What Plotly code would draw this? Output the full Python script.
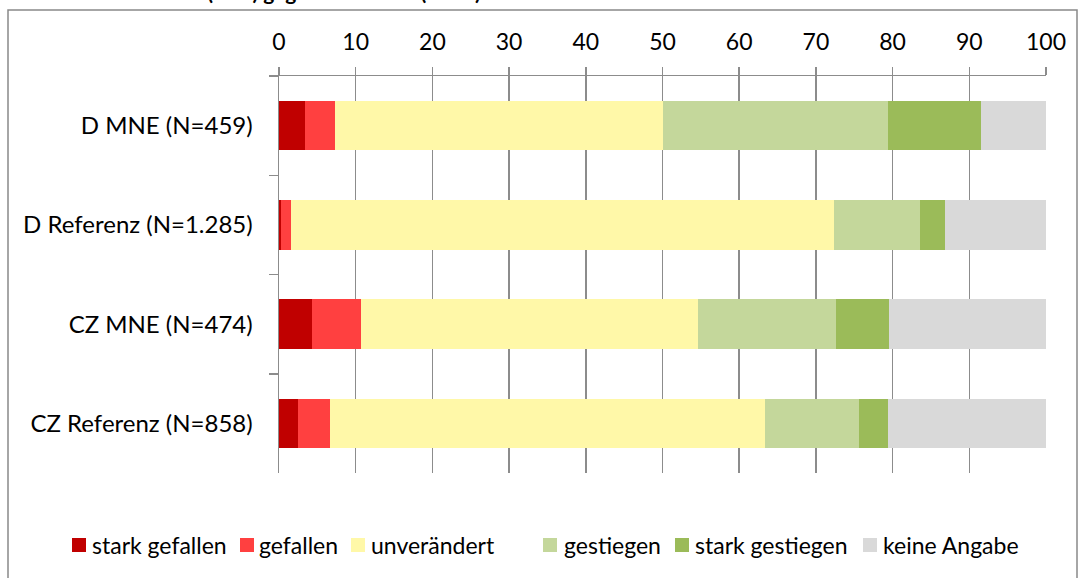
import plotly.graph_objects as go

categories = ["D MNE (N=459)", "D Referenz (N=1.285)", "CZ MNE (N=474)", "CZ Referenz (N=858)"]
series_names = ["stark gefallen", "gefallen", "unverändert", "gestiegen", "stark gestiegen", "keine Angabe"]
stark_gefallen = [3.4, 0.2, 4.3, 2.5]
gefallen = [3.9, 1.4, 6.4, 4.1]
unveraendert = [42.8, 70.7, 43.9, 56.7]
gestiegen = [29.3, 11.3, 18.0, 12.3]
stark_gestiegen = [12.1, 3.2, 6.9, 3.8]
keine_angabe = [8.5, 13.2, 20.5, 20.6]
x_ticks = [0, 10, 20, 30, 40, 50, 60, 70, 80, 90, 100]
title_text = "Umsatz (in %) gegenüber 2008 (2009)"

values = [stark_gefallen, gefallen, unveraendert, gestiegen, stark_gestiegen, keine_angabe]
colors = ["#C00000", "#FF4040", "#FFF8A8", "#C4D79B", "#9BBB59", "#D9D9D9"]

W_FIG, H_FIG = 1091, 578
L, R, T, B = 279, 45, 76, 105
PW = W_FIG - L - R
PH = H_FIG - T - B


def px_x(p):
    return (p - L) / PW


def px_y(p):
    return (H_FIG - B - p) / PH


FONT = "Lato, Calibri, sans-serif"

fig = go.Figure()
for name, vals, col in zip(series_names, values, colors):
    fig.add_trace(go.Bar(
        y=categories, x=vals, name=name, orientation="h",
        marker=dict(color=col, line=dict(width=0)),
        showlegend=False,
    ))

shapes = [
    dict(type="rect", xref="paper", yref="paper",
         x0=px_x(8), x1=px_x(1077), y0=px_y(600), y1=px_y(10),
         line=dict(color="#898989", width=1.5), fillcolor="rgba(0,0,0,0)", layer="below"),
]
annotations = [
    dict(text="<b>" + title_text + "</b>", xref="paper", yref="paper",
         x=px_x(130), y=px_y(6), xanchor="left", yanchor="bottom",
         showarrow=False, font=dict(family=FONT, size=21, color="#000000")),
]

legend_sq = [72, 240, 351, 543, 675, 863]
legend_tx = [92, 259, 371, 564, 695, 883]
for name, col, sx, tx in zip(series_names, colors, legend_sq, legend_tx):
    shapes.append(dict(type="rect", xref="paper", yref="paper",
                       x0=px_x(sx), x1=px_x(sx + 14), y0=px_y(552), y1=px_y(538),
                       fillcolor=col, line=dict(width=0)))
    annotations.append(dict(text=name, xref="paper", yref="paper",
                            x=px_x(tx - 2), y=px_y(545), xanchor="left", yanchor="middle",
                            showarrow=False, font=dict(family=FONT, size=23, color="#000000")))

fig.update_layout(
    barmode="stack",
    bargap=0.5,
    width=W_FIG, height=H_FIG,
    margin=dict(l=L, r=R, t=T, b=B, autoexpand=False),
    paper_bgcolor="white", plot_bgcolor="white",
    font=dict(family=FONT, size=23, color="#000000"),
    shapes=shapes,
    annotations=annotations,
    xaxis=dict(
        side="top", range=[0, 100], tickvals=x_ticks, ticktext=[str(v) for v in x_ticks],
        tickfont=dict(size=23),
        showgrid=True, gridcolor="#8C8C8C", gridwidth=1.5,
        showline=True, linecolor="#8C8C8C", linewidth=1.5,
        ticks="outside", ticklen=8, tickwidth=1.5, tickcolor="#8C8C8C",
        zeroline=False, fixedrange=True, ticklabelstandoff=7,
    ),
    yaxis=dict(
        categoryorder="array", categoryarray=categories, autorange="reversed",
        tickfont=dict(size=24),
        showline=True, linecolor="#8C8C8C", linewidth=1.5,
        ticks="outside", ticklen=9, tickwidth=1.5, tickcolor="#8C8C8C",
        tickson="boundaries", showgrid=False, zeroline=False, ticklabelstandoff=20,
        fixedrange=True,
    ),
)

fig.write_html("out.html", config={"displayModeBar": False, "staticPlot": True},
               post_script="document.body.style.margin='0';document.body.style.overflow='hidden';")
